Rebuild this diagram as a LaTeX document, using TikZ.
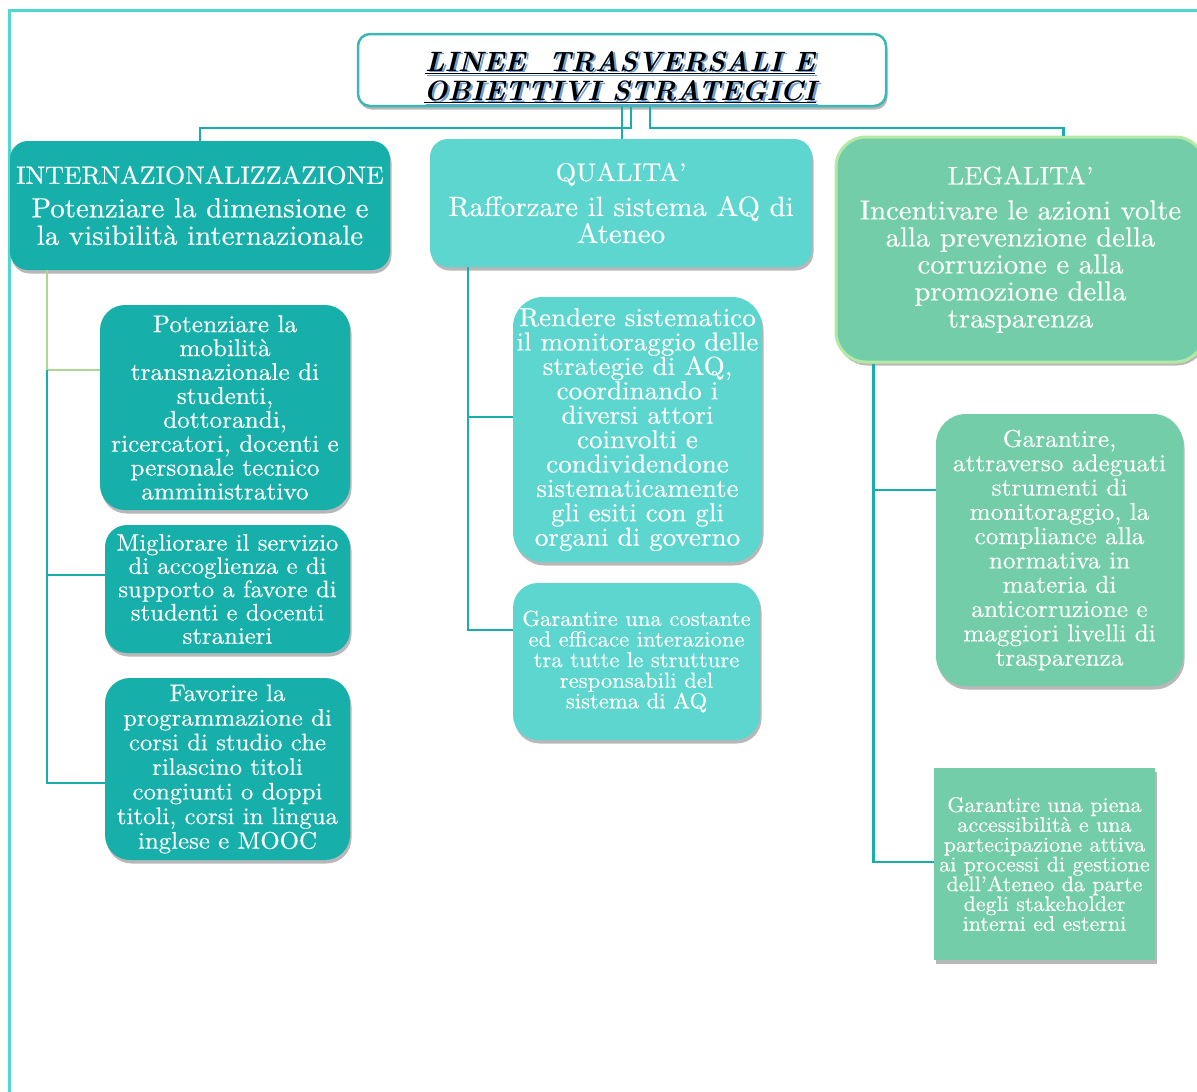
\documentclass[tikz,border=0pt]{standalone}
\usepackage{fontspec}
\setmainfont{lmroman10}[Extension=.otf, UprightFont=*-regular, BoldFont=*-bold, ItalicFont=*-italic, BoldItalicFont=*-bolditalic, FakeStretch=1.04, FakeBold=0.4]
\newfontfamily\titlefont{lmroman10}[Extension=.otf, UprightFont=*-regular, BoldFont=*-bold, ItalicFont=*-italic, BoldItalicFont=*-bolditalic]
\usetikzlibrary{shadows}
\definecolor{tealc}{HTML}{17AFAA}
\definecolor{turqc}{HTML}{5CD6CE}
\definecolor{mintc}{HTML}{72CDA8}
\definecolor{connc}{HTML}{1AADB0}
\definecolor{framec}{HTML}{4FD8D0}
\definecolor{lgreen}{HTML}{A9D88E}
\definecolor{tborder}{HTML}{3CB8B4}
\definecolor{shblue}{HTML}{6A9FD8}
\definecolor{lborder}{HTML}{B5E8A5}
\newcommand\myfs[2]{\fontsize{#1}{#2}\selectfont}
\newcommand\shtxt[1]{\makebox[0pt][l]{\hspace{2.2pt}\raisebox{-1.8pt}{\color{shblue}#1}}#1}
\begin{document}
\begin{tikzpicture}[x=1pt,y=-1pt,
  conn/.style={draw=connc, line width=2.2pt},
  gbox/.style={align=center, text=white, inner sep=0pt, rounded corners=#1,
    drop shadow={shadow xshift=1.5pt, shadow yshift=-3.5pt, opacity=0.28, fill=black}},
  ttl/.style={align=center, inner sep=0pt, font={\titlefont\myfs{28}{29.5}\bfseries\itshape}}
]
\useasboundingbox (0,0) rectangle (1197,1092);
\fill[white] (0,0) rectangle (1197,1092);
\draw[draw=framec, line width=3pt] (9,1092) -- (9,10) -- (1197,10);

% title
\node[gbox=12pt, fill=white, draw=tborder, line width=2.5pt, minimum width=528pt, minimum height=72pt] (title) at (622,70) {};
\node[ttl, text=black] (ttext) at (620,78) {\shtxt{\underline{LINEE\ \ TRASVERSALI E}}\\\shtxt{\underline{OBIETTIVI STRATEGICI}}};

% main boxes
\node[gbox=18pt, fill=tealc, minimum width=380pt, minimum height=129pt, font={\myfs{27.8}{27.5}}] (intern) at (200,205.5)
 {{\myfs{25}{27}INTERNAZIONALIZZAZIONE}\\[6pt]Potenziare la dimensione e\\la visibilità internazionale};
\node[gbox=18pt, fill=turqc, minimum width=382pt, minimum height=128pt, font={\myfs{27.8}{27}}] (qual) at (621,203)
 {{\myfs{25.5}{27}QUALITA’}\\[8pt]Rafforzare il sistema AQ di\\Ateneo};
\node[gbox=30pt, fill=mintc, draw=lborder, line width=3pt, minimum width=369pt, minimum height=225pt, font={\myfs{27.6}{27}}] (leg) at (1020.5,249.5)
 {{\myfs{25.5}{27}LEGALITA’}\\[8pt]Incentivare le azioni volte\\alla prevenzione della\\corruzione e alla\\promozione della\\trasparenza};

% internazionalizzazione children
\node[gbox=25pt, fill=tealc, minimum width=250pt, minimum height=205pt, font={\myfs{24.3}{23.9}}] (I1) at (225,407.5)
 {Potenziare la\\mobilità\\transnazionale di\\studenti,\\dottorandi,\\ricercatori, docenti e\\personale tecnico\\amministrativo};
\node[gbox=22pt, fill=tealc, minimum width=245pt, minimum height=128pt, font={\myfs{23.8}{23.3}}] (I2) at (227.5,589)
 {Migliorare il servizio\\di accoglienza e di\\supporto a favore di\\studenti e docenti\\stranieri};
\node[gbox=25pt, fill=tealc, minimum width=245pt, minimum height=182pt, font={\myfs{23.9}{24.6}}] (I3) at (227.5,769)
 {Favorire la\\programmazione di\\corsi di studio che\\rilascino titoli\\congiunti o doppi\\titoli, corsi in lingua\\inglese e MOOC};

% qualita children
\node[gbox=30pt, fill=turqc, minimum width=249pt, minimum height=265pt, font={\myfs{26}{24.4}}] (Q1) at (637.5,429.5)
 {Rendere sistematico\\il monitoraggio delle\\strategie di AQ,\\coordinando i\\diversi attori\\coinvolti e\\condividendone\\sistematicamente\\gli esiti con gli\\organi di governo};
\node[gbox=25pt, fill=turqc, minimum width=247pt, minimum height=157pt, font={\myfs{21.8}{20.6}}] (Q2) at (636.5,661.5)
 {Garantire una costante\\ed efficace interazione\\tra tutte le strutture\\responsabili del\\sistema di AQ};

% legalita children
\node[gbox=30pt, fill=mintc, minimum width=247pt, minimum height=272pt, font={\myfs{24.3}{24.3}}] (L1) at (1059.5,550)
 {Garantire,\\attraverso adeguati\\strumenti di\\monitoraggio, la\\compliance alla\\normativa in\\materia di\\anticorruzione e\\maggiori livelli di\\trasparenza};
\node[gbox=0pt, fill=mintc, minimum width=221pt, minimum height=192pt, font={\myfs{21.2}{19.8}}] (L2) at (1044.5,864)
 {Garantire una piena\\accessibilità e una\\partecipazione attiva\\ai processi di gestione\\dell’Ateneo da parte\\degli stakeholder\\interni ed esterni};

% top connectors
\draw[conn] (title.south) -- (title.south |- qual.north);
\draw[conn] ([xshift=9pt]title.south) -- ++(0,21) -| (intern.north);
\draw[conn] ([xshift=28pt]title.south) -- ++(0,21) -| ([xshift=43pt]leg.north);

% internazionalizzazione connectors
\coordinate (ij) at (47,370);
\draw[conn, draw=lgreen] ([xshift=37pt]intern.south west) |- ([yshift=37.5pt]I1.west);
\draw[conn] (ij) |- ([yshift=14pt]I2.west);
\draw[conn] (ij) |- ([yshift=-14pt]I3.west);

% qualita connectors
\draw[conn] ([xshift=38pt]qual.south west) |- ([yshift=12.5pt]Q1.west);
\draw[conn] ([xshift=38pt]qual.south west) |- ([yshift=31.5pt]Q2.west);

% legalita connectors
\draw[conn] ([xshift=39pt]leg.south west) |- ([yshift=60pt]L1.west);
\draw[conn] ([xshift=39pt]leg.south west) |- ([yshift=2pt]L2.west);
\end{tikzpicture}
\end{document}
